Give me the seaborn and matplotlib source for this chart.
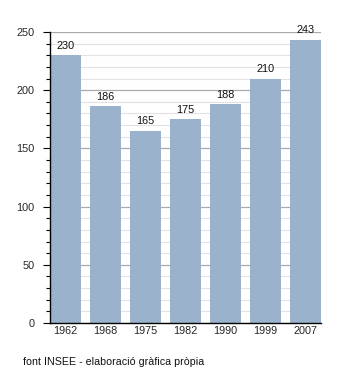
import matplotlib
matplotlib.use("Agg")
import matplotlib.pyplot as plt
from matplotlib.ticker import MultipleLocator
import seaborn as sns
import pandas as pd

years = ["1962", "1968", "1975", "1982", "1990", "1999", "2007"]
population = [230, 186, 165, 175, 188, 210, 243]
source_note = "font INSEE - elaboració gràfica pròpia"

sns.set_theme(style="white")
plt.rcParams["font.family"] = ["Liberation Sans", "DejaVu Sans"]

df = pd.DataFrame({"any": years, "habitants": population})

fig = plt.figure(figsize=(3.5, 3.73), dpi=100)
ax = fig.add_axes([50 / 350, 1 - 323 / 373, 271 / 350, 291 / 373])

sns.barplot(data=df, x="any", y="habitants", color="#9ab2cb", saturation=1,
            width=0.775, linewidth=0, edgecolor="none", ax=ax, zorder=3)

ax.set_xlim(-0.3875, 6.3875)
ax.set_ylim(0, 250)
ax.yaxis.set_major_locator(MultipleLocator(50))
ax.yaxis.set_minor_locator(MultipleLocator(10))
ax.grid(axis="y", which="major", color="#aaaaaa", linewidth=0.9)
ax.grid(axis="y", which="minor", color="#e2e2e2", linewidth=0.8)
ax.set_axisbelow(True)

for s in ["top", "right"]:
    ax.spines[s].set_visible(False)
for s in ["left", "bottom"]:
    ax.spines[s].set_color("black")
    ax.spines[s].set_linewidth(1.0)
    ax.spines[s].set_zorder(5)

ax.tick_params(axis="y", which="major", left=True, length=5, width=0.8,
               color="black", labelsize=7.8, pad=6)
ax.tick_params(axis="y", which="minor", left=True, length=3, width=0.8,
               color="black")
ax.tick_params(axis="x", bottom=False, length=0, labelsize=7.8, pad=2)
ax.set_xlabel("")
ax.set_ylabel("")

for i, v in enumerate(population):
    ax.text(i, v + 4, str(v), ha="center", va="bottom", fontsize=7.8,
            color="#111111", zorder=4)

fig.text(23 / 350, 1 - 362 / 373, source_note, fontsize=7.7, va="center",
         ha="left", color="#111111")

fig.savefig("out.png", dpi=100)
